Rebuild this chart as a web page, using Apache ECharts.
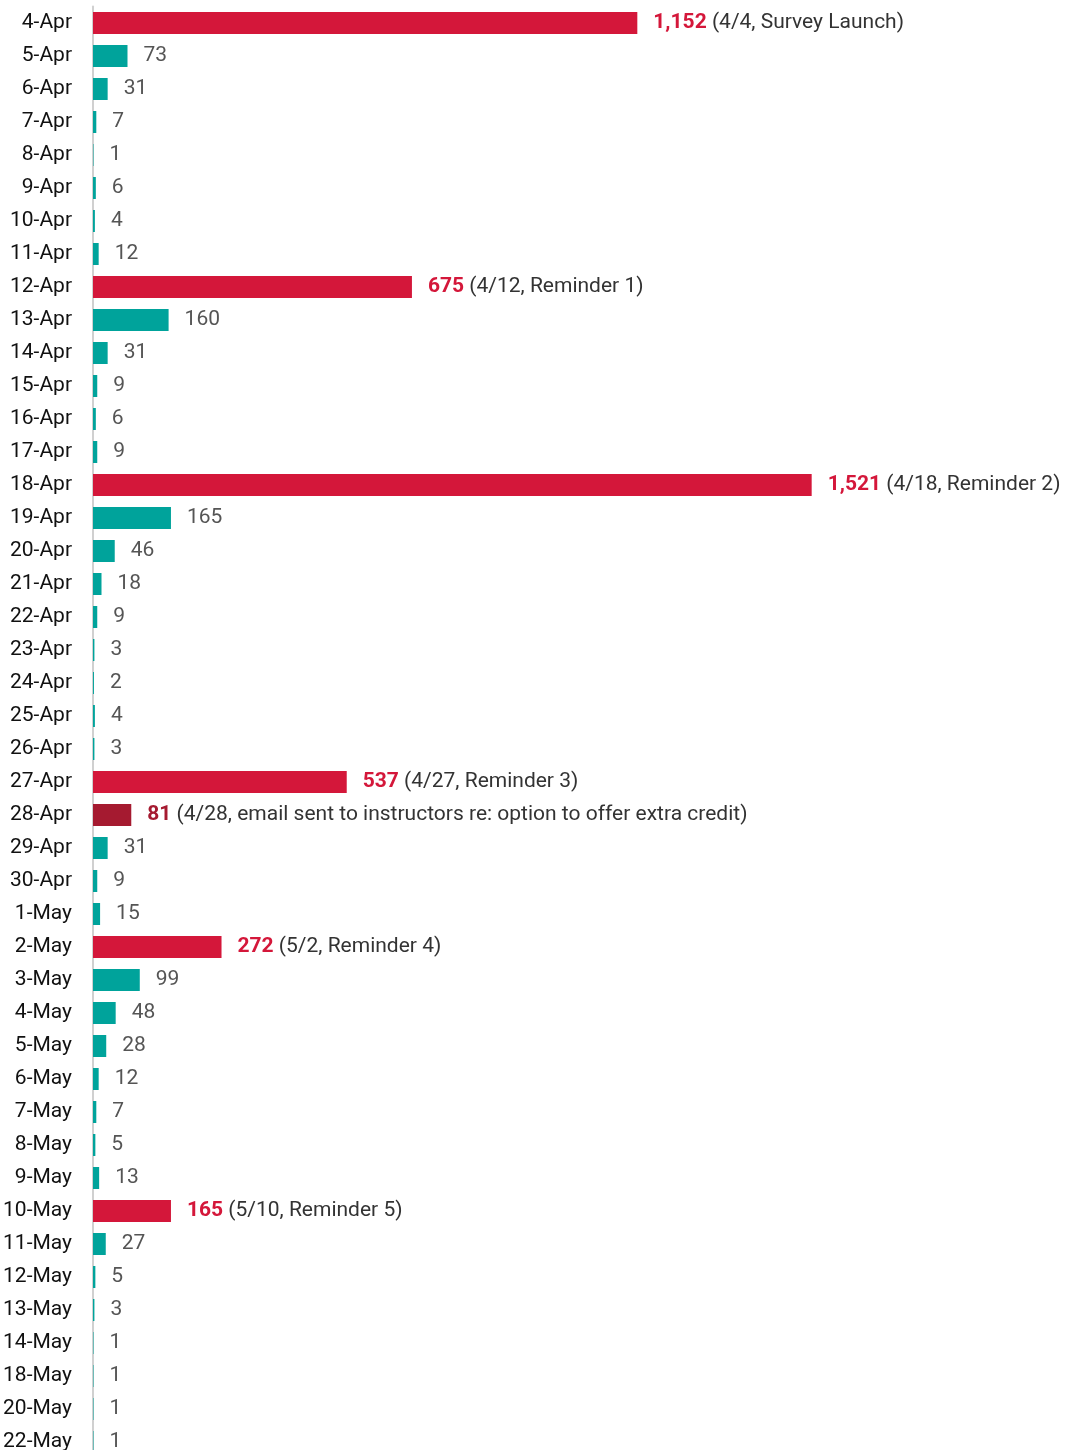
<!DOCTYPE html>
<html>
<head>
<meta charset="utf-8">
<script src="https://cdn.jsdelivr.net/npm/echarts@6/dist/echarts.min.js"></script>
<style>
  html, body { margin: 0; padding: 0; background: #fff; overflow: hidden; }
  #chart { width: 1068px; height: 1460px; }
</style>
</head>
<body>
<div id="chart"></div>
<script>
// Daily survey responses, April 4 through May 22
const dates = [
  '4-Apr','5-Apr','6-Apr','7-Apr','8-Apr','9-Apr','10-Apr','11-Apr','12-Apr','13-Apr',
  '14-Apr','15-Apr','16-Apr','17-Apr','18-Apr','19-Apr','20-Apr','21-Apr','22-Apr','23-Apr',
  '24-Apr','25-Apr','26-Apr','27-Apr','28-Apr','29-Apr','30-Apr','1-May','2-May','3-May',
  '4-May','5-May','6-May','7-May','8-May','9-May','10-May','11-May','12-May','13-May',
  '14-May','18-May','20-May','22-May'
];
const responses = [
  1152, 73, 31, 7, 1, 6, 4, 12, 675, 160,
  31, 9, 6, 9, 1521, 165, 46, 18, 9, 3,
  2, 4, 3, 537, 81, 31, 9, 15, 272, 99,
  48, 28, 12, 7, 5, 13, 165, 27, 5, 3,
  1, 1, 1, 1
];
// Outreach events: date index -> note text
const reminderNotes = {
  0: '(4/4, Survey Launch)',
  8: '(4/12, Reminder 1)',
  14: '(4/18, Reminder 2)',
  23: '(4/27, Reminder 3)',
  28: '(5/2, Reminder 4)',
  36: '(5/10, Reminder 5)'
};
const instructorNotes = {
  24: '(4/28, email sent to instructors re: option to offer extra credit)'
};

const RED = '#D4173A';
const DARK_RED = '#A51A30';
const TEAL = '#00A39B';

const fmt = v => v.toLocaleString('en-US');

const seriesData = responses.map((v, i) => {
  let color = TEAL, label;
  if (reminderNotes[i] !== undefined) {
    color = RED;
    label = { formatter: '{r|' + fmt(v) + '} {n|' + reminderNotes[i] + '}' };
  } else if (instructorNotes[i] !== undefined) {
    color = DARK_RED;
    label = { formatter: '{d|' + fmt(v) + '} {n|' + instructorNotes[i] + '}' };
  }
  const item = { value: v, itemStyle: { color } };
  if (label) item.label = label;
  return item;
});

const chart = echarts.init(document.getElementById('chart'), null, { renderer: 'canvas' });
chart.setOption({
  animation: false,
  grid: { left: 93, top: 6.5, width: 945, height: 1452, containLabel: false },
  xAxis: {
    type: 'value', min: 0, max: 2000,
    show: false
  },
  yAxis: {
    type: 'category',
    data: dates,
    inverse: true,
    axisLine: { show: true, lineStyle: { color: '#d0d0d0', width: 2 } },
    axisTick: { show: false },
    axisLabel: {
      color: '#111', fontFamily: 'Roboto', fontSize: 21, margin: 21
    }
  },
  series: [{
    type: 'bar',
    data: seriesData,
    barWidth: 22,
    label: {
      show: true,
      position: 'right',
      distance: 16,
      fontFamily: 'Roboto',
      fontSize: 21,
      color: '#555',
      rich: {
        r: { color: RED, fontWeight: 'bold', fontFamily: 'Roboto', fontSize: 21 },
        d: { color: DARK_RED, fontWeight: 'bold', fontFamily: 'Roboto', fontSize: 21 },
        n: { color: '#333', fontFamily: 'Roboto', fontSize: 21 }
      }
    }
  }]
});
</script>
</body>
</html>
